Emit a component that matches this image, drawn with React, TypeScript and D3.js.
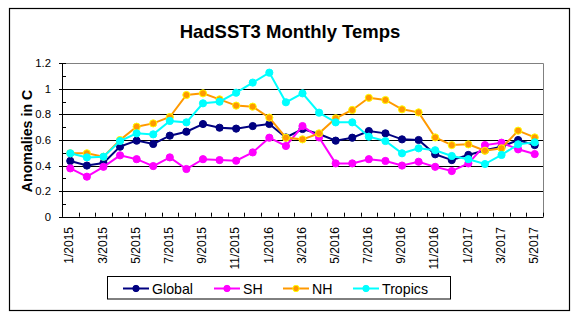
import React from "react";
import * as d3 from "d3";

const months = [
  "1/2015","2/2015","3/2015","4/2015","5/2015","6/2015","7/2015","8/2015","9/2015","10/2015","11/2015","12/2015",
  "1/2016","2/2016","3/2016","4/2016","5/2016","6/2016","7/2016","8/2016","9/2016","10/2016","11/2016","12/2016",
  "1/2017","2/2017","3/2017","4/2017","5/2017",
];
const globalVals = [0.436,0.40,0.42,0.548,0.595,0.569,0.634,0.665,0.725,0.696,0.689,0.709,0.725,0.62,0.686,0.647,0.595,0.618,0.67,0.652,0.605,0.60,0.488,0.443,0.483,0.52,0.548,0.60,0.56];
const shVals = [0.378,0.313,0.39,0.48,0.45,0.396,0.464,0.373,0.45,0.443,0.438,0.503,0.618,0.553,0.709,0.62,0.417,0.417,0.45,0.436,0.40,0.43,0.39,0.357,0.417,0.56,0.579,0.527,0.49];
const nhVals = [0.496,0.496,0.469,0.60,0.704,0.73,0.78,0.952,0.965,0.918,0.869,0.861,0.775,0.618,0.605,0.652,0.77,0.835,0.93,0.913,0.84,0.816,0.62,0.56,0.566,0.516,0.535,0.673,0.62];
const tropicsVals = [0.496,0.464,0.469,0.592,0.652,0.644,0.749,0.738,0.887,0.90,0.97,1.049,1.127,0.895,0.965,0.814,0.738,0.738,0.626,0.592,0.496,0.535,0.52,0.475,0.45,0.412,0.483,0.566,0.582];
const yTicks = [0, 0.2, 0.4, 0.6, 0.8, 1, 1.2];
const seriesNames = ["Global", "SH", "NH", "Tropics"];

const FONT = "'Liberation Sans', Arial, sans-serif";

export default function App() {
  const left = 62, right = 543, top = 63.3, bottom = 216.7;
  const x = d3.scaleBand<string>().domain(months).range([left, right]).padding(0);
  const y = d3.scaleLinear().domain([0, 1.2]).range([bottom, top]);
  const cx = (m: string) => (x(m) as number) + x.bandwidth() / 2;

  const series = [
    { name: seriesNames[0], vals: globalVals, color: "#000080", mstroke: "#000080" },
    { name: seriesNames[1], vals: shVals, color: "#FF00FF", mstroke: "#FF00FF" },
    { name: seriesNames[2], vals: nhVals, color: "#FF9900", mstroke: "#FFFF00" },
    { name: seriesNames[3], vals: tropicsVals, color: "#00FFFF", mstroke: "#00FFFF" },
  ];

  const line = d3.line<number>().x((_, i) => cx(months[i])).y((v) => y(v));
  const minorTicks = d3.range(1, 12, 2).map((k) => k / 10);
  const legendX = [123, 214, 283, 353];

  return (
    <svg width={580} height={329} style={{ position: "absolute", left: 0, top: 0, background: "#fff" }} fontFamily={FONT}>
      <rect x={9.5} y={8.5} width={560} height={302} fill="#fff" stroke="#000" strokeWidth={1.2} />
      <text x={290} y={38} textAnchor="middle" fontSize={18.5} fontWeight="bold">HadSST3 Monthly Temps</text>

      {/* gridlines */}
      {yTicks.filter((t) => t > 0 && t < 1.2).map((t) => (
        <line key={t} x1={left} x2={right} y1={Math.round(y(t)) + 0.5} y2={Math.round(y(t)) + 0.5} stroke="#000" strokeWidth={1} />
      ))}
      {/* plot border top/right */}
      <path d={`M${left},${Math.round(top) + 0.5}H${right + 0.5}V${bottom}`} fill="none" stroke="#808080" strokeWidth={1} />
      {/* y axis */}
      <line x1={left + 0.5} x2={left + 0.5} y1={top} y2={bottom} stroke="#000" />
      {yTicks.map((t) => (
        <g key={t}>
          <line x1={left - 3} x2={left + 4} y1={Math.round(y(t)) + 0.5} y2={Math.round(y(t)) + 0.5} stroke="#000" />
          <text x={51} y={y(t)} dy="0.35em" textAnchor="end" fontSize={11.3}>{d3.format("~g")(t)}</text>
        </g>
      ))}
      {minorTicks.map((t) => (
        <line key={t} x1={left} x2={left + 4} y1={Math.round(y(t)) + 0.5} y2={Math.round(y(t)) + 0.5} stroke="#000" />
      ))}
      {/* x axis */}
      <line x1={left} x2={right + 0.5} y1={Math.round(bottom) + 0.5} y2={Math.round(bottom) + 0.5} stroke="#000" />
      {d3.range(months.length + 1).map((i) => {
        const xx = Math.round(left + i * x.bandwidth()) + 0.5;
        return <line key={i} x1={xx} x2={xx} y1={bottom - 4} y2={bottom} stroke="#000" />;
      })}
      {months.map((m, i) =>
        i % 2 === 0 ? (
          <text key={m} transform={`translate(${cx(m) + 3.2},227) rotate(-90)`} textAnchor="end" fontSize={12}>{m}</text>
        ) : null
      )}
      <text transform={`translate(31.5,141) rotate(-90)`} textAnchor="middle" fontSize={14.2} fontWeight="bold">Anomalies in C</text>

      {/* series */}
      {series.map((s) => (
        <g key={s.name}>
          <path d={line(s.vals) as string} fill="none" stroke={s.color} strokeWidth={2} />
          {s.vals.map((v, i) => (
            <circle key={i} cx={cx(months[i])} cy={y(v)} r={3.6} fill={s.color} stroke={s.mstroke} strokeWidth={1} />
          ))}
        </g>
      ))}

      {/* legend */}
      <rect x={107.5} y={276.5} width={343} height={22.5} fill="#fff" stroke="#000" strokeWidth={1} />
      {series.map((s, i) => (
        <g key={s.name}>
          <line x1={legendX[i]} x2={legendX[i] + 26} y1={288.5} y2={288.5} stroke={s.color} strokeWidth={2} />
          <circle cx={legendX[i] + 13} cy={288.5} r={3.2} fill={s.color} stroke={s.mstroke} strokeWidth={1} />
          <text x={legendX[i] + 29} y={294} fontSize={14.2}>{s.name}</text>
        </g>
      ))}
    </svg>
  );
}
